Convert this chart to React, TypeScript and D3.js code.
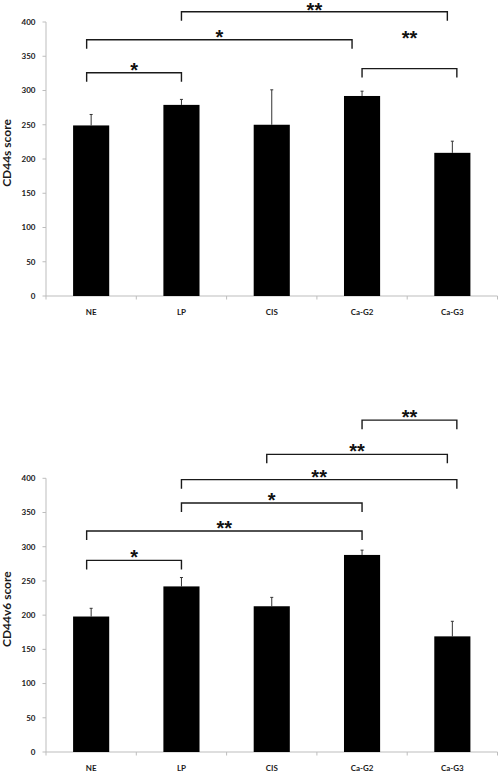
import React, { useEffect } from 'react';
import * as d3 from 'd3';

const categories = ['NE', 'LP', 'CIS', 'Ca-G2', 'Ca-G3'];
const yTicks = [0, 50, 100, 150, 200, 250, 300, 350, 400];

const cd44sMeans = [249, 279, 250, 292, 209];
const cd44sErrors = [16, 8, 51, 7, 17];
const cd44v6Means = [198, 242, 213, 288, 169];
const cd44v6Errors = [12, 13, 13, 7, 22];

// significance brackets: from, to, level (score units), label
const cd44sBrackets = [
  { from: 'NE', to: 'LP', level: 326, label: '*' },
  { from: 'NE', to: 'Ca-G2', level: 374, label: '*' },
  { from: 'LP', to: 'Ca-G3', level: 415, label: '**' },
  { from: 'Ca-G2', to: 'Ca-G3', level: 332, label: '**' },
];
const cd44v6Brackets = [
  { from: 'NE', to: 'LP', level: 280, label: '*' },
  { from: 'NE', to: 'Ca-G2', level: 323, label: '**' },
  { from: 'LP', to: 'Ca-G2', level: 364, label: '*' },
  { from: 'LP', to: 'Ca-G3', level: 398, label: '**' },
  { from: 'CIS', to: 'Ca-G3', level: 435, label: '**' },
  { from: 'Ca-G2', to: 'Ca-G3', level: 485, label: '**' },
];

// layout nudges for bracket ends (px) and label raise (px)
const cd44sNudges = [
  { l: -4.5, r: 0, dy: 0 },
  { l: -4.5, r: -10, dy: 0 },
  { l: 0, r: -5, dy: -1.5 },
  { l: 0, r: 4.5, dy: 28 },
];
const cd44v6Nudges = [
  { l: -4.5, r: 0, dy: 0 },
  { l: -4.5, r: 0, dy: 0 },
  { l: 0, r: 0, dy: 0 },
  { l: 0, r: 4.5, dy: 0 },
  { l: -5, r: -5, dy: 0 },
  { l: 0, r: 4.5, dy: 0 },
];

const FONT = 'Lato, "Open Sans", sans-serif';
const X0 = 46;
const X1 = 497.5;

type Bracket = { from: string; to: string; level: number; label: string };
type Nudge = { l: number; r: number; dy: number };

function Chart(props: {
  means: number[];
  errors: number[];
  brackets: Bracket[];
  nudges: Nudge[];
  title: string;
  yBottom: number;
  yTop: number;
}) {
  const { means, errors, brackets, nudges, title, yBottom, yTop } = props;
  const x = d3.scaleBand<string>().domain(categories).range([X0, X1]).padding(0);
  const y = d3.scaleLinear().domain([0, 400]).range([yBottom, yTop]);
  const bw = x.bandwidth() * 0.4;
  const cx = (c: string) => (x(c) as number) + x.bandwidth() / 2;
  const axisColor = '#bdbdbd';
  const boundaries = categories.map((c) => x(c) as number).concat([X1]);
  const drop = 9;

  return (
    <g>
      {/* y axis */}
      <line x1={X0} x2={X0} y1={yBottom} y2={yTop} stroke={axisColor} strokeWidth={1} />
      {yTicks.map((t) => (
        <g key={t}>
          <line x1={X0 - 3.5} x2={X0} y1={y(t)} y2={y(t)} stroke={axisColor} />
          <text
            x={X0 - 10.5}
            y={y(t)}
            dy="0.35em"
            textAnchor="end"
            fontFamily={FONT}
            fontWeight={700}
            fontSize={8}
            fill="#1a1a1a"
          >
            {t}
          </text>
        </g>
      ))}
      <text
        transform={`translate(11, ${(yBottom + yTop) / 2 - 6}) rotate(-90)`}
        textAnchor="middle"
        fontFamily={FONT}
        fontWeight={700}
        fontSize={12}
        fill="#1a1a1a"
      >
        {title}
      </text>
      {/* x axis */}
      <line x1={X0} x2={X1} y1={yBottom} y2={yBottom} stroke={axisColor} strokeWidth={1} />
      {boundaries.map((b, i) => (
        <line key={i} x1={b} x2={b} y1={yBottom} y2={yBottom + 3.5} stroke={axisColor} />
      ))}
      {categories.map((c) => (
        <text
          key={c}
          x={cx(c)}
          y={yBottom + 16.5}
          dy="0.35em"
          textAnchor="middle"
          fontFamily={FONT}
          fontWeight={700}
          fontSize={8}
          fill="#1a1a1a"
        >
          {c}
        </text>
      ))}
      {/* bars */}
      {categories.map((c, i) => (
        <g key={c}>
          <line
            x1={cx(c)}
            x2={cx(c)}
            y1={y(means[i])}
            y2={y(means[i] + errors[i])}
            stroke="#333"
            strokeWidth={1}
          />
          <line
            x1={cx(c) - 1.5}
            x2={cx(c) + 1.5}
            y1={y(means[i] + errors[i])}
            y2={y(means[i] + errors[i])}
            stroke="#333"
            strokeWidth={1}
          />
          <rect
            x={cx(c) - bw / 2}
            y={y(means[i])}
            width={bw}
            height={yBottom - y(means[i])}
            fill="#000"
          />
        </g>
      ))}
      {/* brackets */}
      {brackets.map((b, i) => {
        const n = nudges[i];
        const xl = cx(b.from) + n.l;
        const xr = cx(b.to) + n.r;
        const yl = y(b.level);
        const path = d3.path();
        path.moveTo(xl, yl + drop);
        path.lineTo(xl, yl);
        path.lineTo(xr, yl);
        path.lineTo(xr, yl + drop);
        return (
          <g key={i}>
            <path d={path.toString()} fill="none" stroke="#1a1a1a" strokeWidth={1.4} />
            <text
              x={(xl + xr) / 2}
              y={yl + 4 - n.dy}
              textAnchor="middle"
              fontFamily='"Liberation Sans", Arial, sans-serif'
              fontWeight={700}
              fontSize={20}
              fill="#111"
            >
              {b.label}
            </text>
          </g>
        );
      })}
    </g>
  );
}

export default function App() {
  useEffect(() => {
    document.body.style.margin = '0';
  }, []);
  return (
    <svg width={498} height={773} style={{ display: 'block', background: '#fff' }}>
      <rect width={498} height={773} fill="#fff" />
      <Chart
        means={cd44sMeans}
        errors={cd44sErrors}
        brackets={cd44sBrackets}
        nudges={cd44sNudges}
        title="CD44s score"
        yBottom={296}
        yTop={22}
      />
      <Chart
        means={cd44v6Means}
        errors={cd44v6Errors}
        brackets={cd44v6Brackets}
        nudges={cd44v6Nudges}
        title="CD44v6 score"
        yBottom={752}
        yTop={478.3}
      />
    </svg>
  );
}
